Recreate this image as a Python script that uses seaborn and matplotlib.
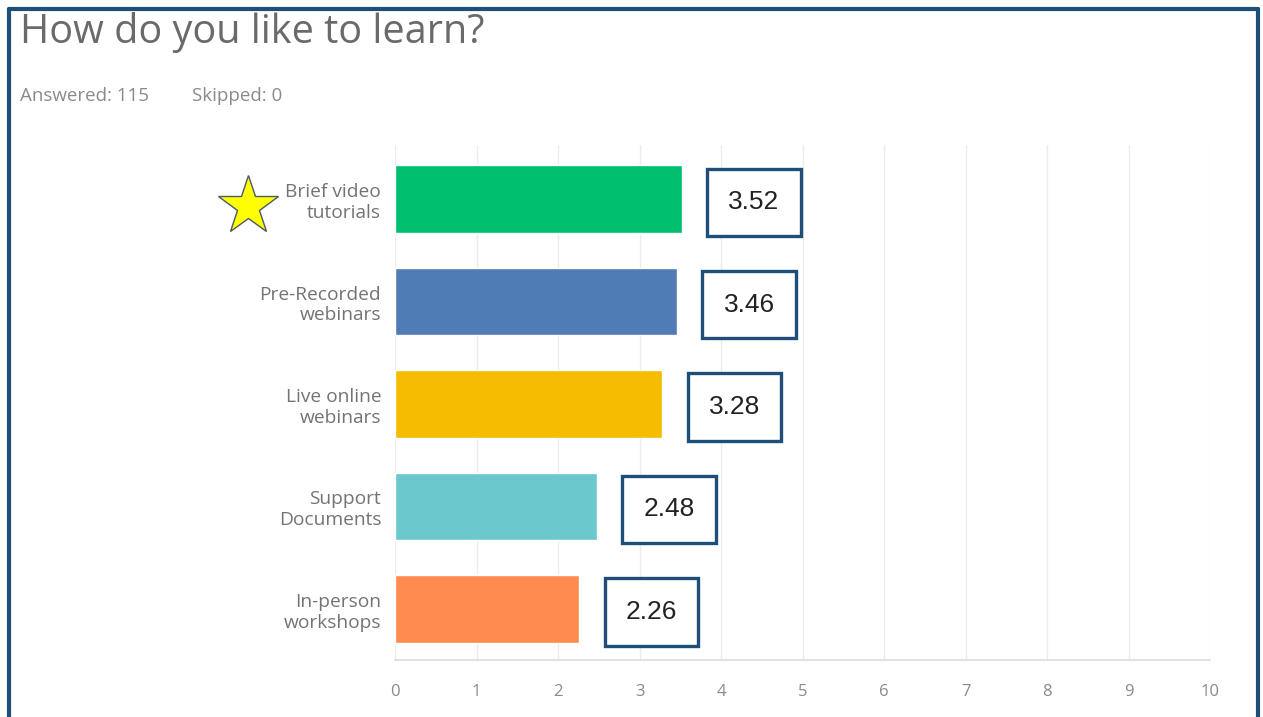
import matplotlib
matplotlib.use("Agg")
import matplotlib.pyplot as plt
from matplotlib.patches import Rectangle
from matplotlib.lines import Line2D
import seaborn as sns
import pandas as pd

# Survey results: average rating per learning format
categories = ["Brief video\ntutorials", "Pre-Recorded\nwebinars", "Live online\nwebinars",
              "Support\nDocuments", "In-person\nworkshops"]
scores = [3.52, 3.46, 3.28, 2.48, 2.26]
bar_colors = ["#00bf6f", "#507cb6", "#f6bc00", "#6bc8cd", "#ff8b4f"]
x_ticks = list(range(0, 11))

title = "How do you like to learn?"
answered = "Answered: 115"
skipped = "Skipped: 0"

df = pd.DataFrame({"category": categories, "score": scores})

sns.set_theme(style="white")
plt.rcParams["font.family"] = ["Open Sans", "DejaVu Sans"]

fig = plt.figure(figsize=(12.63, 7.17), dpi=100)
ax = fig.add_axes([0.3128, 0.0795, 0.6453, 0.7183])

sns.barplot(data=df, x="score", y="category", hue="category",
            palette=bar_colors, orient="h", width=0.66, legend=False,
            saturation=1, ax=ax)

ax.set_xlim(0, 10)
ax.set_ylim(4.5, -0.53)
ax.set_xticks(x_ticks)
ax.set_xticklabels([str(t) for t in x_ticks], color="#8a8a8a", fontsize=12)
ax.tick_params(axis="x", length=0, pad=17)
ax.tick_params(axis="y", length=0, pad=10, labelsize=13.8, labelcolor="#737373")
ax.set_xlabel("")
ax.set_ylabel("")

# light vertical gridlines and baseline
ax.grid(axis="x", color="#ececec", linewidth=1)
ax.set_axisbelow(True)
for side in ["top", "right", "left"]:
    ax.spines[side].set_visible(False)
ax.spines["bottom"].set_color("#dcdcdc")
ax.spines["bottom"].set_linewidth(1.2)

# value call-out boxes to the right of each bar
box_gap = 0.31
box_w = 1.15
box_h = 0.66
for i, v in enumerate(scores):
    ax.add_patch(Rectangle((v + box_gap, i - box_h / 2 + 0.03), box_w, box_h,
                           facecolor="white", edgecolor="#1f4e79", linewidth=2.4,
                           zorder=5, clip_on=False))
    ax.text(v + box_gap + box_w / 2, i + 0.03, f"{v:.2f}", ha="center", va="center",
            fontsize=19, color="#222222", family=["Liberation Sans", "DejaVu Sans"],
            zorder=6)

# star highlighting the top choice
fig.add_artist(Line2D([248 / 1263], [1 - 206 / 717], marker="*", markersize=45,
                      markerfacecolor="#ffff00", markeredgecolor="#4a5a6a",
                      markeredgewidth=1, transform=fig.transFigure))

# header texts
fig.text(20 / 1263, 1 - 43 / 717, title, fontsize=28.5, color="#6a6a6a", va="baseline")
fig.text(20 / 1263, 1 - 101 / 717, answered, fontsize=13.5, color="#8a8a8a", va="baseline")
fig.text(192 / 1263, 1 - 101 / 717, skipped, fontsize=13.5, color="#8a8a8a", va="baseline")

# dark blue frame (top, left, right)
frame_c = "#1f4e79"
fig.add_artist(Line2D([9 / 1263, 1258 / 1263], [1 - 9 / 717, 1 - 9 / 717],
                      color=frame_c, linewidth=3, transform=fig.transFigure))
fig.add_artist(Line2D([9 / 1263, 9 / 1263], [0, 1 - 9 / 717],
                      color=frame_c, linewidth=3, transform=fig.transFigure))
fig.add_artist(Line2D([1258 / 1263, 1258 / 1263], [0, 1 - 9 / 717],
                      color=frame_c, linewidth=3, transform=fig.transFigure))

fig.savefig("out.png", dpi=100, facecolor="white")
